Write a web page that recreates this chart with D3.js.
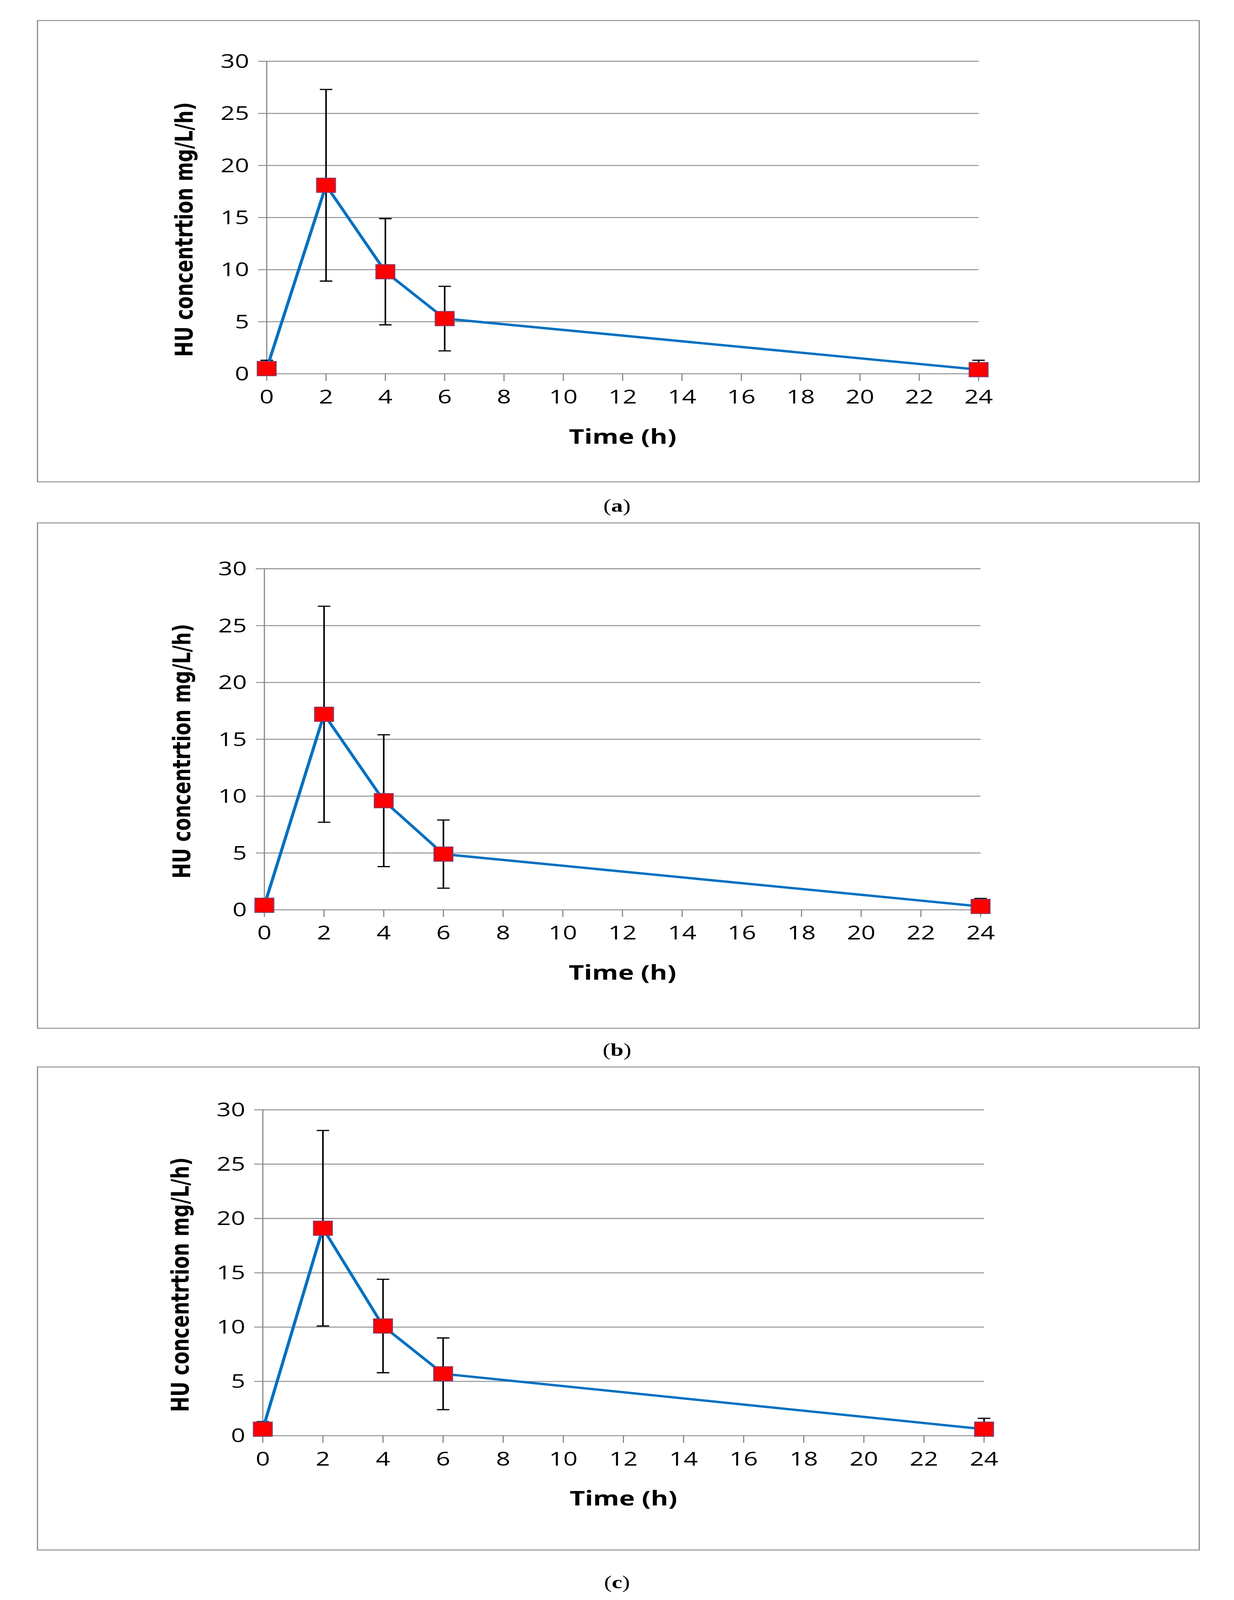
<!DOCTYPE html>
<html><head><meta charset="utf-8">
<script src="https://cdn.jsdelivr.net/npm/d3@7"></script>
<style>html,body{margin:0;padding:0;background:#fff;overflow:hidden}#c{display:block;width:100vw;height:100vh}</style></head>
<body><svg id="c" viewBox="0 0 3160 5376" preserveAspectRatio="none"></svg>
<script>
const times=[0,2,4,6,24];
const xTicks=[0,2,4,6,8,10,12,14,16,18,20,22,24];
const yTicks=[0,5,10,15,20,25,30];
const meanA=[0.5,18.1,9.8,5.3,0.4], sdA=[0.8,9.2,5.1,3.1,0.9];
const meanB=[0.4,17.2,9.6,4.9,0.3], sdB=[0.5,9.5,5.8,3.0,0.7];
const meanC=[0.6,19.1,10.1,5.7,0.6], sdC=[0.7,9.0,4.3,3.3,1.0];
const captions=["a","b","c"];
const panels=[
 {m:meanA,s:sdA,box:[96,69,3071,1619],x:[683,2506],y:[1256,206],cap:1698},
 {m:meanB,s:sdB,box:[96,1757,3071,3455],x:[677,2511],y:[3057,1911],cap:3527},
 {m:meanC,s:sdC,box:[96,3585,3071,5208],x:[673,2520],y:[4824,3729],cap:5315}];
const svg=d3.select("#c");
const tf="'Liberation Sans Narrow','Open Sans',sans-serif";
panels.forEach((p,i)=>{
 const g=svg.append("g");
 g.append("rect").attr("x",p.box[0]).attr("y",p.box[1]).attr("width",p.box[2]-p.box[0]).attr("height",p.box[3]-p.box[1]).attr("fill","none").attr("stroke","#888").attr("stroke-width",3);
 const x=d3.scaleLinear().domain([0,24]).range(p.x);
 const y=d3.scaleLinear().domain([0,30]).range(p.y);
 g.selectAll(".gr").data(yTicks).join("line").attr("x1",p.x[0]-22).attr("x2",p.x[1]).attr("y1",d=>y(d)).attr("y2",d=>y(d)).attr("stroke","#888").attr("stroke-width",3);
 g.append("line").attr("x1",p.x[0]).attr("x2",p.x[0]).attr("y1",y(30)).attr("y2",y(0)).attr("stroke","#888").attr("stroke-width",3);
 g.selectAll(".xt").data(xTicks).join("line").attr("x1",d=>x(d)).attr("x2",d=>x(d)).attr("y1",y(0)).attr("y2",y(0)+24).attr("stroke","#888").attr("stroke-width",3);
 g.selectAll(".yl").data(yTicks).join("text").attr("x",p.x[0]-45).attr("y",d=>y(d)).attr("dy","0.35em").attr("text-anchor","end").attr("font-family",tf).attr("font-size",64).text(d=>d);
 g.selectAll(".xl").data(xTicks).join("text").attr("x",d=>x(d)).attr("y",y(0)+100).attr("text-anchor","middle").attr("font-family",tf).attr("font-size",64).text(d=>d);
 g.append("text").attr("x",(p.x[0]+p.x[1])/2).attr("y",y(0)+235).attr("text-anchor","middle").attr("font-family",tf).attr("font-weight","bold").attr("font-size",68).text("Time (h)");
 g.append("text").attr("transform",`translate(${p.x[0]-190},${(y(0)+y(30))/2+40}) rotate(-90)`).attr("text-anchor","middle").attr("font-family","'DejaVu Sans',sans-serif").attr("font-weight","bold").attr("font-size",62).text("HU concentrtion mg/L/h)");
 const data=times.map((t,k)=>({t,m:p.m[k],s:p.s[k]}));
 g.selectAll(".eb").data(data).join("line").attr("x1",d=>x(d.t)).attr("x2",d=>x(d.t)).attr("y1",d=>y(d.m+d.s)).attr("y2",d=>y(Math.max(0,d.m-d.s))).attr("stroke","#000").attr("stroke-width",4);
 g.selectAll(".ec").data(data).join("line").attr("x1",d=>x(d.t)-16).attr("x2",d=>x(d.t)+16).attr("y1",d=>y(d.m+d.s)).attr("y2",d=>y(d.m+d.s)).attr("stroke","#000").attr("stroke-width",4);
 g.selectAll(".ed").data(data.filter(d=>d.m-d.s>0)).join("line").attr("x1",d=>x(d.t)-16).attr("x2",d=>x(d.t)+16).attr("y1",d=>y(d.m-d.s)).attr("y2",d=>y(d.m-d.s)).attr("stroke","#000").attr("stroke-width",4);
 g.append("path").datum(data).attr("d",d3.line().x(d=>x(d.t)).y(d=>y(d.m))).attr("fill","none").attr("stroke","#0070c0").attr("stroke-width",8);
 g.selectAll(".mk").data(data).join("rect").attr("x",d=>x(d.t)-24).attr("y",d=>y(d.m)-24).attr("width",48).attr("height",48).attr("fill","#ff0000").attr("stroke","#8b3a62").attr("stroke-width",3);
 svg.append("text").attr("x",1580).attr("y",p.cap).attr("dy","0.35em").attr("text-anchor","middle").attr("font-family","'Liberation Serif',serif").attr("font-size",60).html(`(<tspan font-weight="bold">${captions[i]}</tspan>)`);
});
</script></body></html>
